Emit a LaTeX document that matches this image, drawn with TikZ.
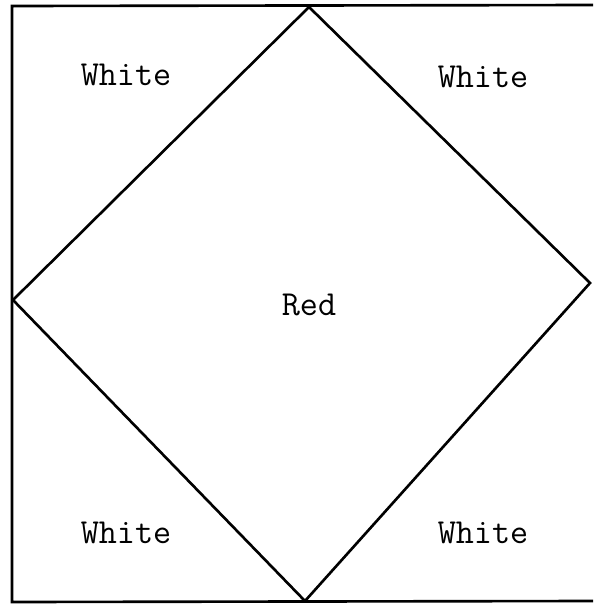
\documentclass[tikz,border=0pt]{standalone}
\usetikzlibrary{positioning}
\tikzset{
  region/.style={font=\ttfamily\fontsize{20}{24}\selectfont, inner sep=0pt},
  edge/.style={line width=1.5pt, line join=miter}
}
\begin{document}
\begin{tikzpicture}[x=0.02cm, y=-0.02cm]
		\useasboundingbox (0,0) rectangle (593,609);
        
		% square corners
		\coordinate (tl) at (12,6);
		\coordinate (tr) at (593,5);
		\coordinate (bl) at (12,602);
		\coordinate (br) at (593,601);
        
		% diamond corners
		\coordinate (dt) at (309,7);
		\coordinate (dr) at (590,283);
		\coordinate (db) at (305,601);
		\coordinate (dl) at (13,300);
        
		\draw[edge] (tr) -- (tl) -- (bl) -- (br);
		\draw[edge] (dt) -- (dr) -- (db) -- (dl) -- cycle;
        
		\foreach \n / \x / \y in {nw/126/75, ne/483/77, sw/126/533, se/483/533}
		\node[region] (\n) at (\x, \y) {White};
        
		\node[region] (red) at (309,305) {Red};
	\end{tikzpicture}
\end{document}
